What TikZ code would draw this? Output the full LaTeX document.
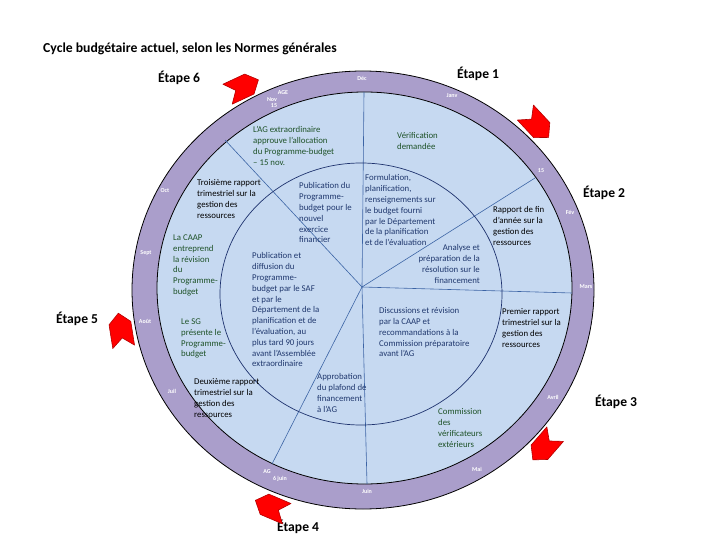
\documentclass[tikz,border=0pt]{standalone}
\usepackage{fontspec}
\setmainfont{Carlito}
\definecolor{ringc}{RGB}{170,158,203}
\definecolor{innerc}{RGB}{198,217,241}
\definecolor{radc}{RGB}{60,100,165}
\definecolor{midc}{RGB}{30,50,110}
\definecolor{navy}{RGB}{32,56,110}
\definecolor{dgreen}{RGB}{30,82,40}
\definecolor{arrred}{RGB}{255,0,0}
\definecolor{arredge}{RGB}{180,0,0}
\begin{document}
\begin{tikzpicture}[x=1pt,y=-1pt,
  tx/.style={font=\fontsize{8.8}{10.8}\selectfont, align=left, inner sep=0pt, anchor=north west},
  txr/.style={font=\fontsize{8.8}{10.8}\selectfont, align=right, inner sep=0pt, anchor=north east},
  mon/.style={font=\fontsize{6}{6.5}\selectfont\bfseries, text=white, inner sep=0pt},
  etape/.style={font=\fontsize{13.6}{15}\selectfont\bfseries, inner sep=0pt, anchor=west},
  chev/.style={fill=arrred, draw=arredge, line width=0.6pt, line join=round},
  radial/.style={draw=radc, line width=0.6pt}]
\useasboundingbox (0,0) rectangle (720,540);
\fill[white] (0,0) rectangle (720,540);

% ring and inner disc
\fill[ringc] (363,290) ellipse [x radius=231, y radius=219];
\draw[black, line width=0.8pt] (363,290) ellipse [x radius=231, y radius=219];
\fill[innerc] (364.5,288) ellipse [x radius=207.5, y radius=196];
\draw[black, line width=0.8pt] (364.5,288) ellipse [x radius=207.5, y radius=196];

% radial lines
\coordinate (c) at (362,287);
\coordinate (ptop) at (364,92);
\coordinate (pur) at (535,178);
\coordinate (pr) at (572,293);
\coordinate (pdown) at (367,484);
\coordinate (pdl) at (272,464);
\coordinate (pul) at (225,140);
\foreach \p in {ptop,pur,pr,pdown,pdl,pul} \draw[radial] (c) -- (\p);

% middle circle
\draw[midc, line width=0.7pt] (361,294) ellipse [x radius=141, y radius=131];

% title
\node[font=\fontsize{13.7}{15}\selectfont\bfseries, anchor=base west, inner sep=0pt] (title) at (43,53) {Cycle budgétaire actuel, selon les Normes générales};

% etapes
\node[etape] (e6) at (158,78) {Étape 6};
\node[etape] (e1) at (457,74) {Étape 1};
\node[etape] (e2) at (583,193) {Étape 2};
\node[etape] (e3) at (595,402) {Étape 3};
\node[etape] (e4) at (277,527) {Étape 4};
\node[etape] (e5) at (56,319) {Étape 5};

% arrows (chevrons), pointing clockwise around the cycle
\foreach \cx/\cy/\r in {243/87/25, 537/125/-47, 544/447/-131, 271/507/157, 121/330/99}
  \draw[chev, shift={(\cx,\cy)}, rotate=\r] (-17,-11) -- (7,-11) -- (17,0) -- (7,11) -- (-17,11) -- (-8,0) -- cycle;

% month labels
\node[mon] (dec) at (362,78) {Déc};
\node[mon] (janv) at (452,96) {Janv};
\node[mon] (q15) at (541,171) {15};
\node[mon] (fev) at (570,212) {Fév};
\node[mon] (mars) at (586,287) {Mars};
\node[mon] (avril) at (553,397) {Avril};
\node[mon] (mai) at (477,469) {Mai};
\node[mon] (juin) at (367,491) {Juin};
\node[mon] (ag) at (267,472) {AG};
\node[mon] (sixjuin) at (280,479) {6 juin};
\node[mon] (juil) at (172,391) {Juil};
\node[mon] (aout) at (145,321) {Août};
\node[mon] (sept) at (146,253) {Sept};
\node[mon] (oct) at (165,191) {Oct};
\node[mon] (age) at (283,93) {AGE};
\node[mon] (nov) at (272,100) {Nov};
\node[mon] (n15) at (274,106) {15};

% interior texts
\node[tx, text=dgreen] (t1) at (253,126.5) {L'AG extraordinaire\\approuve l'allocation\\du Programme-budget\\– 15 nov.};
\node[tx, text=dgreen] (t2) at (397,132.5) {Vérification\\demandée};
\node[tx, text=black] (t3) at (197,179.5) {Troisième rapport\\trimestriel sur la\\gestion des\\ressources};
\node[tx, text=navy] (t4) at (299,182.5) {Publication du\\Programme-\\budget pour le\\nouvel\\exercice\\financier};
\node[tx, text=navy] (t5) at (365,174.5) {Formulation,\\planification,\\renseignements sur\\le budget fourni\\par le Département\\de la planification\\et de l'évaluation};
\node[tx, text=black] (t6) at (493,206.5) {Rapport de fin\\d'année sur la\\gestion des\\ressources};
\node[tx, text=dgreen] (t7) at (173,234.5) {La CAAP\\entreprend\\la révision\\du\\Programme-\\budget};
\node[txr, text=navy] (t8) at (480,244.5) {Analyse et\\préparation de la\\résolution sur le\\financement};
\node[tx, text=navy] (t9) at (252,252.5) {Publication et\\diffusion du\\Programme-\\budget par le SAF\\et par le\\Département de la\\planification et de\\l'évaluation, au\\plus tard 90 jours\\avant l'Assemblée\\extraordinaire};
\node[tx, text=navy] (t10) at (379,307.5) {Discussions et révision\\par la CAAP et\\recommandations à la\\Commission préparatoire\\avant l'AG};
\node[tx, text=black] (t11) at (502,308.5) {Premier rapport\\trimestriel sur la\\gestion des\\ressources};
\node[tx, text=dgreen] (t12) at (181,318.5) {Le SG\\présente le\\Programme-\\budget};
\node[tx, text=navy] (t13) at (317,373.5) {Approbation\\du plafond de\\financement\\à l'AG};
\node[tx, text=black] (t14) at (194,378.5) {Deuxième rapport\\trimestriel sur la\\gestion des\\ressources};
\node[tx, text=dgreen] (t15) at (438,408.5) {Commission\\des\\vérificateurs\\extérieurs};
\end{tikzpicture}
\end{document}
